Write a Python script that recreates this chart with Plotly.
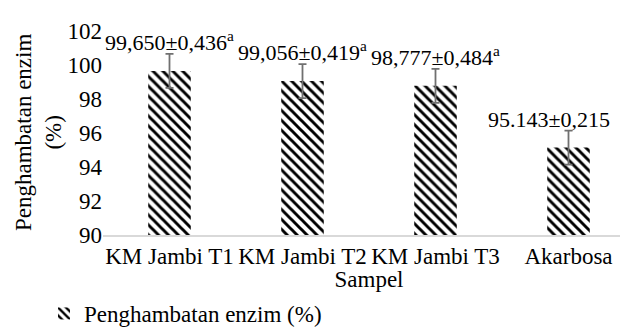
import plotly.graph_objects as go

categories = ["KM Jambi T1", "KM Jambi T2", "KM Jambi T3", "Akarbosa"]
values = [99.650, 99.056, 98.777, 95.143]
errors = [1.0, 1.0, 1.0, 1.0]
labels = ["99,650±0,436<sup>a</sup>", "99,056±0,419<sup>a</sup>",
          "98,777±0,484<sup>a</sup>", "95.143±0,215"]
y_ticks = [90, 92, 94, 96, 98, 100, 102]
series_name = "Penghambatan enzim (%)"

FONT = "Liberation Serif"
FS = 23

fig = go.Figure()
fig.add_trace(go.Bar(
    x=categories, y=values, name=series_name, width=0.32,
    marker=dict(color="white", line=dict(width=0),
                pattern=dict(shape="\\", fgcolor="black", bgcolor="white",
                             size=7, solidity=0.42, fillmode="replace")),
    error_y=dict(type="data", array=errors, visible=True,
                 color="#707070", thickness=1.8, width=4),
    showlegend=True,
))

for i, (c, v, e, t) in enumerate(zip(categories, values, errors, labels)):
    fig.add_annotation(x=c, y=v + e, text=t, showarrow=False,
                       yanchor="bottom", yshift=-3,
                       xshift=-20 if i == len(categories) - 1 else 0,
                       font=dict(family=FONT, size=22, color="black"))

fig.add_annotation(xref="paper", yref="paper", x=(30 - 95) / 532, y=0.5,
                   text="Penghambatan enzim<br>(%)", textangle=-90,
                   showarrow=False, xanchor="center", yanchor="middle",
                   font=dict(family=FONT, size=FS, color="black"))

fig.update_layout(
    width=628, height=327,
    margin=dict(l=95, r=1, t=23, b=100, autoexpand=False),
    paper_bgcolor="white", plot_bgcolor="white",
    font=dict(family=FONT, size=FS, color="black"),
    bargap=0.68,
    legend=dict(orientation="h", xref="container", yref="container",
                x=36 / 628, xanchor="left",
                y=0.0, yanchor="bottom",
                font=dict(family=FONT, size=FS, color="black"),
                bgcolor="rgba(0,0,0,0)"),
    xaxis=dict(showgrid=False, showline=True, linecolor="#d9d9d9", linewidth=1.5,
               ticks="", automargin=False, tickangle=0,
               tickfont=dict(family=FONT, size=FS),
               title=dict(text="Sampel", standoff=12,
                          font=dict(family=FONT, size=FS))),
    yaxis=dict(range=[90, 102], tickvals=y_ticks, showgrid=False,
               showline=False, zeroline=False, ticks="", automargin=False,
               tickfont=dict(family=FONT, size=FS)),
)

fig.write_html("out.html")
